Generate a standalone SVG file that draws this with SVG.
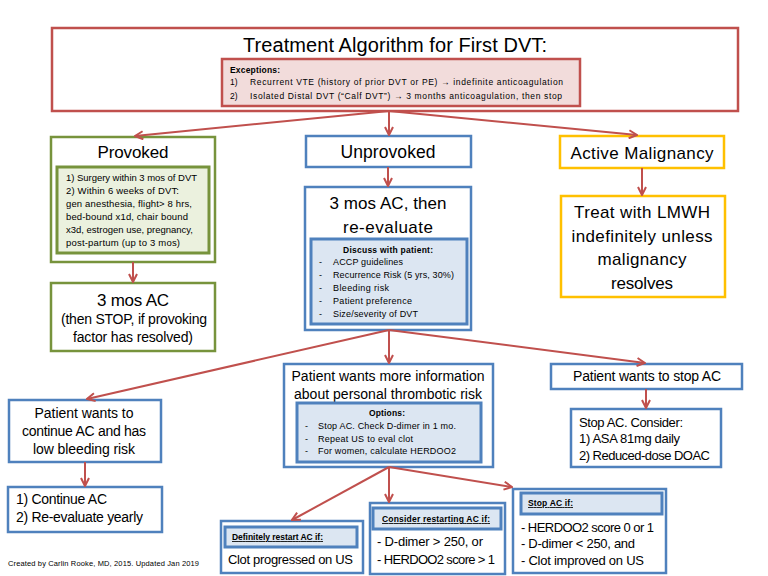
<svg xmlns="http://www.w3.org/2000/svg" width="768" height="576" viewBox="0 0 768 576">
<defs>
<style>
text{font-family:"Liberation Sans",Arial,sans-serif;fill:#000}
.c{text-anchor:middle}
.b{font-weight:bold}
.u{text-decoration:underline}
.red{fill:#fff;stroke:#C0504D;stroke-width:2.5}
.redin{fill:#F2DCDB;stroke:#C0504D;stroke-width:2.5}
.grn{fill:#fff;stroke:#77933C;stroke-width:2.5}
.grnin{fill:#EBF1DE;stroke:#77933C;stroke-width:3}
.blu{fill:#fff;stroke:#4F81BD;stroke-width:2.5}
.bluin{fill:#DCE6F2;stroke:#4F81BD;stroke-width:3}
.org{fill:#fff;stroke:#FFC000;stroke-width:2.5}
.con line{stroke:#C0504D;stroke-width:2;marker-end:url(#ah)}
</style>
<marker id="ah" viewBox="0 0 10 10" refX="9" refY="5" markerWidth="10" markerHeight="10" markerUnits="userSpaceOnUse" orient="auto">
<path d="M1,1 L9,5 L1,9" fill="none" stroke="#C0504D" stroke-width="2"/>
</marker>
</defs>
<rect width="768" height="576" fill="#fff"/>

<g id="top">
<rect class="red" x="52" y="28" width="686" height="83"/>
<text class="c" x="395" y="52" font-size="20" textLength="304">Treatment Algorithm for First DVT:</text>
<rect class="redin" x="222" y="59" width="358" height="47"/>
<text class="b" x="230" y="73" font-size="8.5" textLength="50">Exceptions:</text>
<text x="230" y="85" font-size="8.5">1)</text>
<text x="250" y="85" font-size="8.5" textLength="313">Recurrent VTE (history of prior DVT or PE) → indefinite anticoagulation</text>
<text x="230" y="99" font-size="8.5">2)</text>
<text x="250" y="99" font-size="8.5" textLength="312">Isolated Distal DVT (“Calf DVT”) → 3 months anticoagulation, then stop</text>
</g>

<g id="provoked">
<rect class="grn" x="51" y="137" width="164" height="125"/>
<text class="c" x="133" y="158" font-size="17" textLength="71">Provoked</text>
<rect class="grnin" x="57" y="167" width="152" height="86"/>
<text x="66" y="181" font-size="9.5" textLength="131">1) Surgery within 3 mos of DVT</text>
<text x="66" y="194" font-size="9.5" textLength="113">2) Within 6 weeks of DVT:</text>
<text x="66" y="207" font-size="9.5" textLength="126">gen anesthesia, flight&gt; 8 hrs,</text>
<text x="66" y="220" font-size="9.5" textLength="122">bed-bound x1d, chair bound</text>
<text x="66" y="233" font-size="9.5" textLength="127">x3d, estrogen use, pregnancy,</text>
<text x="66" y="246" font-size="9.5" textLength="114">post-partum (up to 3 mos)</text>
</g>

<g id="provoked-ac">
<rect class="grn" x="51" y="283" width="164" height="68"/>
<text class="c" x="133" y="306" font-size="17" textLength="72">3 mos AC</text>
<text class="c" x="134" y="324" font-size="14" textLength="146">(then STOP, if provoking</text>
<text class="c" x="133" y="342" font-size="14" textLength="120">factor has resolved)</text>
</g>

<g id="unprovoked">
<rect class="blu" x="306" y="136" width="165" height="31"/>
<text class="c" x="388" y="158" font-size="17.5" textLength="95">Unprovoked</text>
</g>

<g id="reevaluate">
<rect class="blu" x="305" y="187" width="166" height="143"/>
<text class="c" x="388" y="209" font-size="17" textLength="117">3 mos AC, then</text>
<text class="c" x="388" y="233" font-size="17" textLength="90">re-evaluate</text>
<rect class="bluin" x="311" y="239" width="156" height="85"/>
<text class="c b" x="388" y="253" font-size="8.5" textLength="90">Discuss  with patient:</text>
<text x="319" y="265" font-size="9">-</text>
<text x="333" y="265" font-size="9" textLength="70">ACCP guidelines</text>
<text x="319" y="278" font-size="9">-</text>
<text x="333" y="278" font-size="9" textLength="121">Recurrence Risk (5 yrs, 30%)</text>
<text x="319" y="291" font-size="9">-</text>
<text x="333" y="291" font-size="9" textLength="56">Bleeding risk</text>
<text x="319" y="304" font-size="9">-</text>
<text x="333" y="304" font-size="9" textLength="79">Patient preference</text>
<text x="319" y="317" font-size="9">-</text>
<text x="333" y="317" font-size="9" textLength="85">Size/severity of DVT</text>
</g>

<g id="malignancy">
<rect class="org" x="560" y="136" width="164" height="32"/>
<text class="c" x="642" y="159" font-size="17" textLength="143">Active Malignancy</text>
</g>

<g id="lmwh">
<rect class="org" x="561" y="196" width="164" height="101"/>
<text class="c" x="642" y="218" font-size="17" textLength="136">Treat with LMWH</text>
<text class="c" x="642" y="242" font-size="17" textLength="141">indefinitely unless</text>
<text class="c" x="642" y="265" font-size="17" textLength="89">malignancy</text>
<text class="c" x="642" y="289" font-size="17" textLength="62">resolves</text>
</g>

<g id="continue">
<rect class="blu" x="9" y="400" width="152" height="62"/>
<text class="c" x="84" y="418" font-size="14" textLength="99">Patient wants to</text>
<text class="c" x="84" y="436" font-size="14" textLength="124">continue AC and has</text>
<text class="c" x="84" y="454" font-size="14" textLength="102">low bleeding risk</text>
</g>

<g id="continue-ac">
<rect class="blu" x="8" y="487" width="154" height="45"/>
<text x="16" y="504" font-size="14" textLength="91">1) Continue AC</text>
<text x="16" y="522" font-size="14" textLength="127">2) Re-evaluate yearly</text>
</g>

<g id="moreinfo">
<rect class="blu" x="284" y="364" width="209" height="103"/>
<text class="c" x="388" y="381" font-size="14" textLength="193">Patient wants more information</text>
<text class="c" x="388" y="399" font-size="14" textLength="188">about personal thrombotic risk</text>
<rect class="bluin" x="297" y="403" width="184" height="59"/>
<text class="c b" x="387" y="416" font-size="8.5" textLength="36">Options:</text>
<text x="305" y="429" font-size="9">-</text>
<text x="318" y="429" font-size="9" textLength="138">Stop AC. Check D-dimer in 1 mo.</text>
<text x="305" y="442" font-size="9">-</text>
<text x="318" y="442" font-size="9" textLength="95">Repeat US to eval clot</text>
<text x="305" y="454" font-size="9">-</text>
<text x="318" y="454" font-size="9" textLength="138">For women,  calculate HERDOO2</text>
</g>

<g id="wantstop">
<rect class="blu" x="551" y="364" width="191" height="25"/>
<text class="c" x="647" y="381" font-size="14" textLength="148">Patient wants to stop AC</text>
</g>

<g id="stopconsider">
<rect class="blu" x="571" y="409" width="150" height="58"/>
<text x="579" y="427" font-size="13" textLength="104">Stop AC. Consider:</text>
<text x="579" y="443" font-size="13" textLength="101">1) ASA 81mg daily</text>
<text x="579" y="460" font-size="13" textLength="131">2) Reduced-dose  DOAC</text>
</g>

<g id="definitely">
<rect class="blu" x="221" y="521" width="142" height="52"/>
<rect class="bluin" x="225" y="527" width="132" height="20"/>
<text class="b u" x="232" y="540" font-size="8.5" textLength="91">Definitely restart AC if:</text>
<text x="228" y="564" font-size="13" textLength="125">Clot progressed on US</text>
</g>

<g id="consider">
<rect class="blu" x="370" y="503" width="135" height="71"/>
<rect class="bluin" x="373" y="508" width="128" height="21"/>
<text class="b u" x="382" y="522" font-size="8.5" textLength="108">Consider restarting AC if:</text>
<text x="377" y="546" font-size="13" textLength="106">- D-dimer  &gt; 250, or</text>
<text x="377" y="564" font-size="13" textLength="118">- HERDOO2  score &gt; 1</text>
</g>

<g id="stopif">
<rect class="blu" x="513" y="489" width="153" height="84"/>
<rect class="bluin" x="521" y="493" width="141" height="21"/>
<text class="b u" x="528" y="506" font-size="8.5" textLength="45">Stop AC if:</text>
<text x="521" y="532" font-size="13" textLength="133">- HERDOO2  score 0 or 1</text>
<text x="521" y="548" font-size="13" textLength="114">- D-dimer  &lt; 250, and</text>
<text x="521" y="565" font-size="13" textLength="123">- Clot improved on US</text>
</g>

<g id="footer">
<text x="8" y="566" font-size="7.5" textLength="191">Created  by Carlin Rooke, MD, 2015. Updated Jan 2019</text>
</g>

<g id="connectors" class="con">
<line x1="389" y1="111" x2="135" y2="136"/>
<line x1="389" y1="111" x2="389" y2="135"/>
<line x1="389" y1="111" x2="637" y2="135"/>
<line x1="133" y1="262" x2="133" y2="282"/>
<line x1="388" y1="167" x2="388" y2="186"/>
<line x1="642" y1="168" x2="642" y2="195"/>
<line x1="389" y1="330" x2="87" y2="399"/>
<line x1="389" y1="330" x2="389" y2="363"/>
<line x1="389" y1="330" x2="645" y2="363"/>
<line x1="85" y1="462" x2="85" y2="486"/>
<line x1="646" y1="389" x2="646" y2="408"/>
<line x1="389" y1="467" x2="292" y2="520"/>
<line x1="389" y1="467" x2="389" y2="502"/>
<line x1="389" y1="467" x2="512" y2="487"/>
</g>
</svg>
